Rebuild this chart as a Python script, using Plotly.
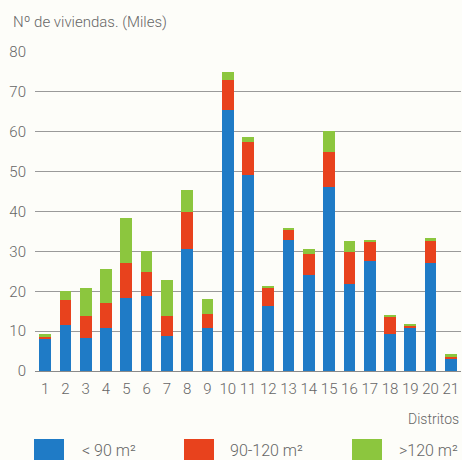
import plotly.graph_objects as go

distritos = [str(i) for i in range(1, 22)]
menos_90 = [8.0, 11.5, 8.4, 10.9, 18.4, 18.8, 8.9, 30.7, 10.9, 65.5, 49.2, 16.3, 32.9, 24.0, 46.1, 21.9, 27.7, 9.4, 11.0, 27.1, 2.9]
de_90_120 = [0.7, 6.4, 5.5, 6.1, 8.8, 6.0, 4.9, 9.2, 3.3, 7.6, 8.2, 4.6, 2.6, 5.4, 8.8, 7.9, 4.9, 4.3, 0.4, 5.5, 0.6]
mas_120 = [0.5, 2.1, 7.0, 8.5, 11.1, 5.4, 9.1, 5.4, 3.8, 1.8, 1.2, 0.3, 0.3, 1.2, 5.4, 2.9, 0.3, 0.3, 0.2, 0.8, 0.7]

series_names = ["< 90 m²", "90-120 m²", ">120 m²"]
colors = ["#1f7bc6", "#e8421d", "#8cc63e"]
values = [menos_90, de_90_120, mas_120]

TXT = "#666666"
FONT = "Roboto"
WGT = 300

fig = go.Figure()
for name, col, vals in zip(series_names, colors, values):
    fig.add_trace(go.Bar(x=distritos, y=vals, name=name, marker_color=col,
                         marker_line_width=0, showlegend=False))

fig.update_layout(
    barmode="stack",
    bargap=0.42,
    width=462, height=460,
    margin=dict(l=35, r=1, t=52, b=89),
    paper_bgcolor="#fdfdf9",
    plot_bgcolor="#fdfdf9",
    font=dict(family=FONT, color=TXT, size=14, weight=WGT),
    xaxis=dict(showgrid=False, showline=False, ticks="", zeroline=False,
               tickfont=dict(size=15, color=TXT, family=FONT, weight=WGT),
               ticklabelstandoff=7),
    yaxis=dict(range=[0, 80], dtick=10, showgrid=True, gridcolor="#9a9a9a", gridwidth=1,
               zeroline=True, zerolinecolor="#8a8a8a", zerolinewidth=1,
               showline=False, ticks="",
               tickfont=dict(size=15, color=TXT, family=FONT, weight=WGT),
               ticklabelstandoff=8),
)

fig.add_annotation(text="Nº de viviendas. (Miles)", xref="paper", yref="paper",
                   x=-0.057, y=1.0, yshift=30, xanchor="left", yanchor="middle",
                   showarrow=False, font=dict(size=15, color=TXT, family=FONT, weight=WGT))
fig.add_annotation(text="Distritos", xref="paper", yref="paper",
                   x=1.0, y=0, yshift=-48, xanchor="right", yanchor="middle",
                   showarrow=False, font=dict(size=14, color=TXT, family=FONT, weight=WGT))

legend_x = [34, 184, 352]
text_x = [80, 228, 397]
W = 462.0
H_plot = 460 - 52 - 89
for lx, tx, name, col in zip(legend_x, text_x, series_names, colors):
    fig.add_shape(type="rect", xref="paper", yref="paper",
                  x0=(lx - 35) / (W - 36), x1=(lx + 30 - 35) / (W - 36),
                  y0=(371 - 462) / H_plot, y1=(371 - 439) / H_plot,
                  fillcolor=col, line_width=0)
    fig.add_annotation(text=name, xref="paper", yref="paper",
                       x=(tx - 35) / (W - 36), y=(371 - 450) / H_plot,
                       xanchor="left", yanchor="middle", showarrow=False,
                       font=dict(size=16, color=TXT, family=FONT, weight=WGT))

fig.write_html("out.html")
